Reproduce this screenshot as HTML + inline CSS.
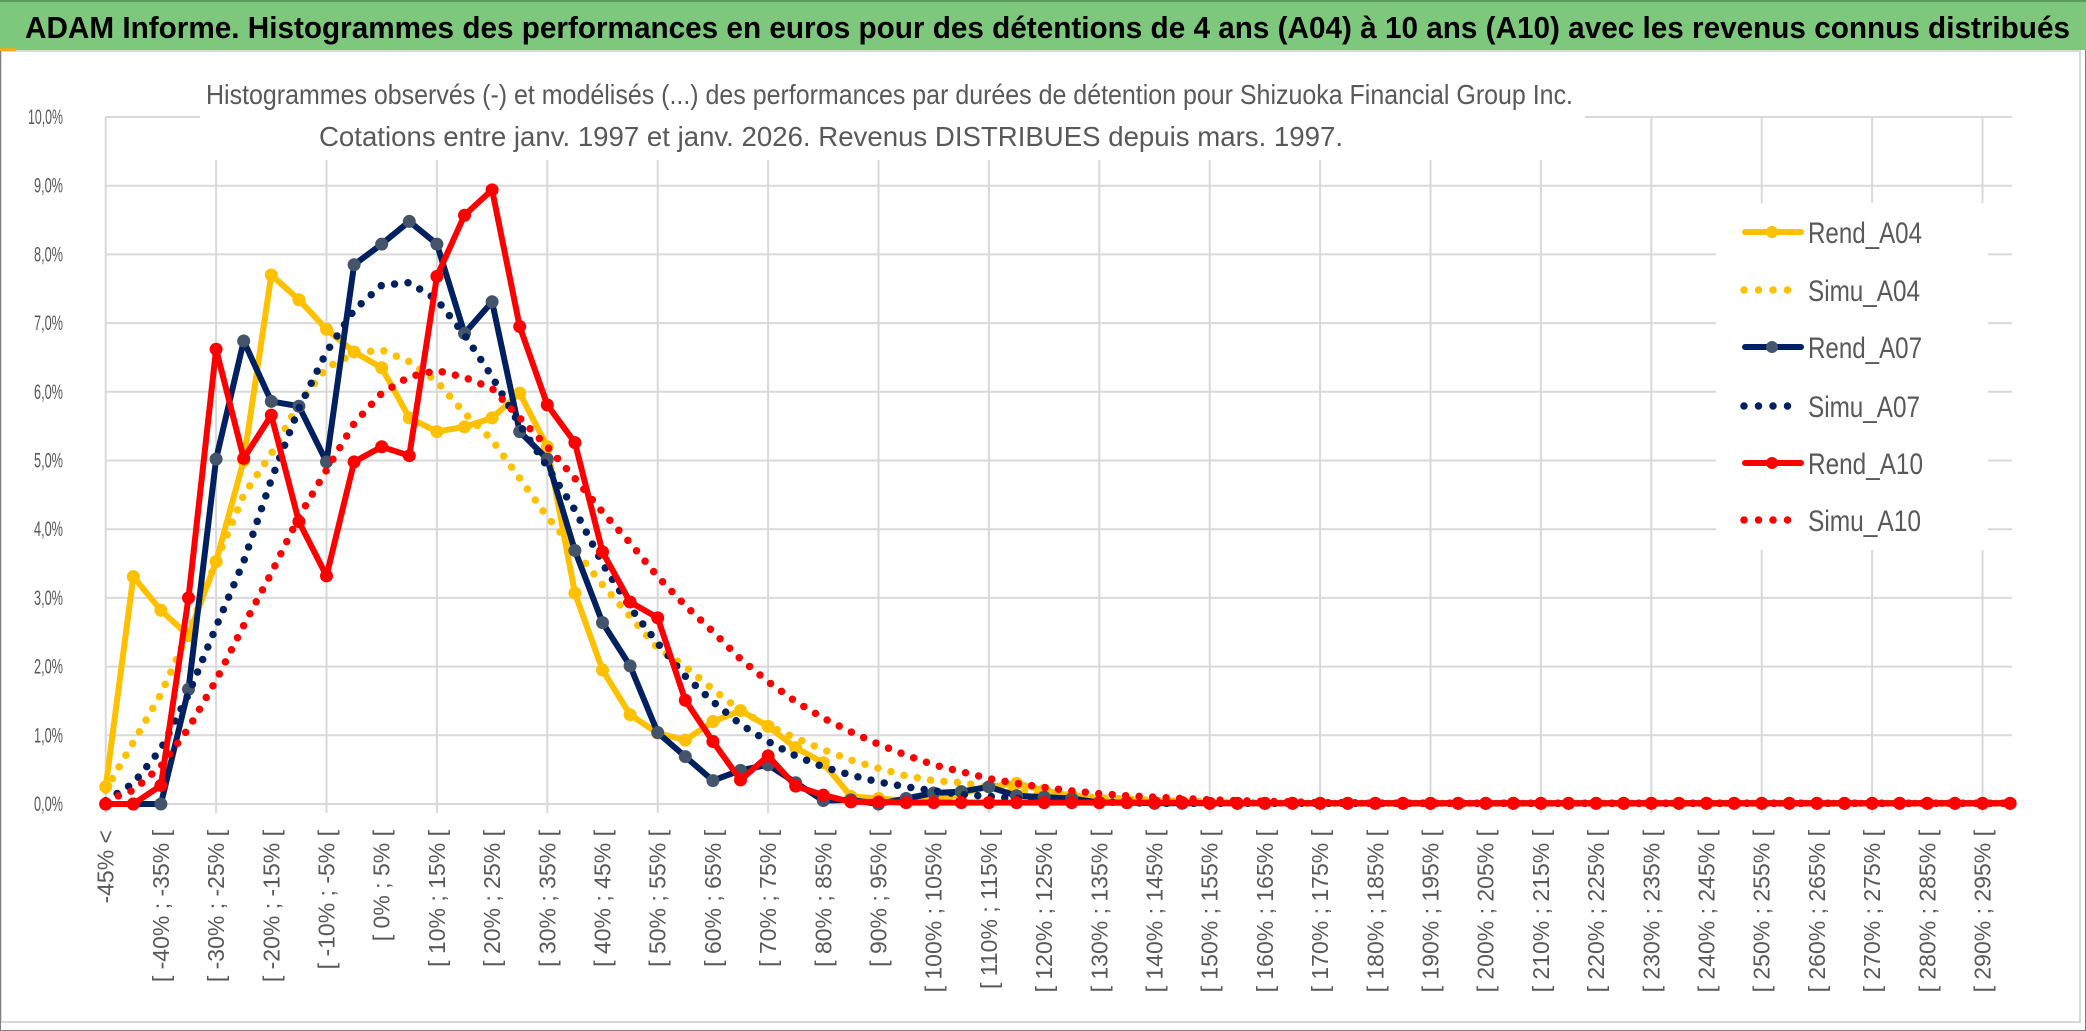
<!DOCTYPE html>
<html><head><meta charset="utf-8"><style>
html,body{margin:0;padding:0;background:#fff;}
svg{display:block;}
</style></head><body>
<svg id="chart" width="2086" height="1031" viewBox="0 0 2086 1031" xmlns="http://www.w3.org/2000/svg" font-family="'Liberation Sans', sans-serif">
<rect x="0" y="0" width="2086" height="1031" fill="#fff"/>
<rect x="1" y="51" width="2079" height="971" fill="none" stroke="#d9d9d9" stroke-width="2"/>
<rect x="0.5" y="0.5" width="2085" height="1030" fill="none" stroke="#7f7f7f" stroke-width="1"/>
<rect x="0" y="0" width="2086" height="50" fill="#7ec87e"/>
<rect x="0" y="0" width="2086" height="2" fill="#5a9a5a"/>
<rect x="0" y="48" width="16" height="3" fill="#e8b020"/>
<text x="25" y="38" font-size="31" font-weight="bold" fill="#000" textLength="2045" lengthAdjust="spacingAndGlyphs">ADAM Informe. Histogrammes des performances en euros pour des détentions de 4 ans (A04) à 10 ans (A10) avec les revenus connus distribués</text>
<g id="grid"></g>
<rect x="200" y="68" width="1385" height="92" fill="#fff"/>
<text x="206" y="104" font-size="28" fill="#595959" textLength="1367" lengthAdjust="spacingAndGlyphs">Histogrammes observés (-) et modélisés (...) des performances par durées de détention pour Shizuoka Financial Group Inc.</text>
<text x="319" y="146" font-size="28" fill="#595959" textLength="1024" lengthAdjust="spacingAndGlyphs">Cotations entre janv. 1997 et janv. 2026. Revenus DISTRIBUES depuis mars. 1997.</text>
<g id="yticks"></g>
<g id="xticks"></g>
<g id="series"></g>
<g id="legend"></g>
</svg>
<script>
const bins = [-45,-45,-40,-35,-30,-25,-20,-15,-10,-5,0,5,10,15,20,25,30,35,40,45,50,55,60,65,70,75,80,85,90,95,100,105,110,115,120,125,130,135,140,145,150,155,160,165,170,175,180,185,190,195,200,205,210,215,220,225,230,235,240,245,250,255,260,265,270,275,280,285,290,295];
const rendA04 = [0.25,3.31,2.82,2.45,3.53,5.00,7.70,7.34,6.91,6.58,
6.35,5.62,5.42,5.49,5.62,5.98,5.20,3.07,1.95,1.30,
1.03,0.93,1.20,1.36,1.13,0.82,0.60,0.11,0.08,0.05,
0.05,0.15,0.25,0.30,0.20,0.12,0.05,0.02,0.02,0.02,
0.01,0.01,0.01,0.01,0.01,0.01,0.01,0.01,0.01,0.01,
0.01,0.01,0.01,0.01,0.01,0.01,0.01,0.01,0.01,0.01,
0.01,0.01,0.01,0.01,0.01,0.01,0.01,0.01,0.01,0.01];
const simuA04 = [0.20,0.90,1.60,2.50,3.53,4.50,5.10,5.83,6.35,6.56,
6.61,6.44,6.15,5.69,5.30,4.74,4.18,3.70,3.19,2.73,
2.27,2.00,1.67,1.36,1.14,0.96,0.79,0.64,0.52,0.41,
0.34,0.31,0.25,0.20,0.15,0.12,0.09,0.07,0.05,0.04,
0.03,0.02,0.02,0.01,0.01,0.01,0.01,0.01,0.01,0.01,
0.01,0.01,0.01,0.01,0.01,0.01,0.01,0.01,0.01,0.01,
0.01,0.01,0.01,0.01,0.01,0.01,0.01,0.01,0.01,0.01];
const rendA07 = [0,0,0,1.67,5.02,6.74,5.86,5.79,4.98,7.85,
8.15,8.48,8.15,6.85,7.31,5.42,5.02,3.69,2.64,2.01,
1.04,0.69,0.34,0.49,0.57,0.31,0.05,0.06,0.00,0.08,
0.16,0.18,0.25,0.12,0.10,0.08,0.02,0.02,0.01,0.01,
0.01,0.01,0.01,0.01,0.01,0.01,0.01,0.01,0.01,0.01,
0.01,0.01,0.01,0.01,0.01,0.01,0.01,0.01,0.01,0.01,
0.01,0.01,0.01,0.01,0.01,0.01,0.01,0.01,0.01,0.01];
const simuA07 = [0.05,0.30,0.80,1.60,2.58,3.53,4.72,5.76,6.58,7.19,
7.55,7.59,7.34,6.83,6.22,5.52,4.91,4.28,3.50,2.86,
2.34,1.86,1.49,1.16,0.91,0.70,0.54,0.42,0.32,0.25,
0.19,0.14,0.11,0.08,0.06,0.04,0.03,0.02,0.01,0.01,
0.01,0.01,0.01,0.01,0.01,0.01,0.01,0.01,0.01,0.01,
0.01,0.01,0.01,0.01,0.01,0.01,0.01,0.01,0.01,0.01,
0.01,0.01,0.01,0.01,0.01,0.01,0.01,0.01,0.01,0.01];
const rendA10 = [0,0,0.27,3.00,6.62,5.03,5.66,4.11,3.32,4.98,
5.20,5.07,7.68,8.57,8.94,6.95,5.81,5.26,3.67,2.94,
2.71,1.51,0.91,0.35,0.70,0.26,0.13,0.03,0.03,0.02,
0.02,0.02,0.02,0.02,0.02,0.02,0.02,0.02,0.02,0.02,
0.01,0.01,0.01,0.01,0.01,0.01,0.01,0.01,0.01,0.01,
0.01,0.01,0.01,0.01,0.01,0.01,0.01,0.01,0.01,0.01,
0.01,0.01,0.01,0.01,0.01,0.01,0.01,0.01,0.01,0.01];
const simuA10 = [0.05,0.20,0.55,1.10,1.80,2.60,3.36,4.18,4.86,5.54,
5.98,6.22,6.31,6.21,6.05,5.62,5.20,4.74,4.25,3.80,
3.31,2.89,2.51,2.11,1.78,1.49,1.25,1.05,0.87,0.71,
0.57,0.47,0.37,0.30,0.24,0.19,0.15,0.12,0.10,0.08,
0.06,0.05,0.04,0.03,0.02,0.02,0.01,0.01,0.01,0.01,
0.01,0.01,0.01,0.01,0.01,0.01,0.01,0.01,0.01,0.01,
0.01,0.01,0.01,0.01,0.01,0.01,0.01,0.01,0.01,0.01];
const yTickValues = [0,1,2,3,4,5,6,7,8,9,10];
const yTickLabels = ["0,0%","1,0%","2,0%","3,0%","4,0%","5,0%","6,0%","7,0%","8,0%","9,0%","10,0%"];
const seriesNames = ["Rend_A04","Simu_A04","Rend_A07","Simu_A07","Rend_A10","Simu_A10"];

const NS = "http://www.w3.org/2000/svg";
const X0 = 105.7, DX = 27.6, Y0 = 804, DY = 68.7, XR = 2012;
function xPos(i){ return X0 + i*DX; }
function yPos(v){ return Y0 - v*DY; }
function mk(tag, attrs, parent){ const e = document.createElementNS(NS, tag); for (const k in attrs) e.setAttribute(k, attrs[k]); parent.appendChild(e); return e; }
function fmt(n){ return (n<0? "-"+Math.abs(n) : ""+n) + "%"; }
const catLabels = bins.map((b,i)=> i===0 ? "-45% <" : "[ " + fmt(b) + " ; " + fmt(b+5) + " [");

const grid = document.getElementById('grid');
yTickValues.forEach(v=>{
  const l = mk('line',{x1:X0,x2:XR,y1:yPos(v),y2:yPos(v),stroke:'#d9d9d9','stroke-width':2},grid);
  
  
});
for (let i=0;i<catLabels.length;i+=4){
  const l = mk('line',{x1:xPos(i),x2:xPos(i),y1:yPos(10),y2:Y0+9,stroke:'#d9d9d9','stroke-width':2},grid);
  
  
}
const yt = document.getElementById('yticks');
yTickValues.forEach((v,k)=>{
  const lab = yTickLabels[k];
  const t = mk('text',{x:63,y:yPos(v)+7,'font-size':21,fill:'#595959','text-anchor':'end',textLength:(lab.length===5?35:29),lengthAdjust:'spacingAndGlyphs'},yt);
  t.textContent = lab;
  
  
});
const xt = document.getElementById('xticks');
catLabels.forEach((lab,i)=>{
  if (i%2!==0) return;
  const x = xPos(i)+8, y = 830;
  const t = mk('text',{x:x,y:y,'font-size':23,fill:'#595959','text-anchor':'end',transform:'rotate(-90 '+x+' '+y+')'},xt);
  t.textContent = lab;
  
  
});

const sg = document.getElementById('series');
function pts(arr){ return arr.map((v,i)=>xPos(i).toFixed(1)+','+yPos(v).toFixed(1)).join(' '); }
function drawRend(arr,color,mcolor,name){
  const g = mk('g',{},sg);
  
  
  const p = mk('polyline',{points:pts(arr),fill:'none',stroke:color,'stroke-width':6,'stroke-linejoin':'round'},g);
  
  
  arr.forEach((v,i)=>{
    const c = mk('circle',{cx:xPos(i),cy:yPos(v),r:6.5,fill:mcolor},g);
    
    
  });
}
function drawSimu(arr,color,name){
  const p = mk('polyline',{points:pts(arr),fill:'none',stroke:color,'stroke-width':7.5,'stroke-linecap':'round','stroke-linejoin':'round','stroke-dasharray':'0 13.5'},sg);
  
  
}
drawRend(rendA04,'#FFC000','#FFC000','rend-a04');
drawSimu(simuA04,'#FFC000','simu-a04');
drawRend(rendA07,'#002060','#44546A','rend-a07');
drawSimu(simuA07,'#002060','simu-a07');
drawRend(rendA10,'#FF0000','#FF0000','rend-a10');
drawSimu(simuA10,'#FF0000','simu-a10');

const lg = document.getElementById('legend');
const lbg = mk('rect',{x:1716,y:203,width:272,height:347,fill:'#fff'},lg);


const legColors = ['#FFC000','#FFC000','#002060','#002060','#FF0000','#FF0000'];
const legMarker = ['#FFC000',null,'#44546A',null,'#FF0000',null];
const legY = [232,290,347,406,463,520];
const legW = [114,112,114,112,115,113];
seriesNames.forEach((n,k)=>{
  const g = mk('g',{},lg);
  
  
  const y = legY[k];
  if (legMarker[k]){
    mk('line',{x1:1745,x2:1801,y1:y,y2:y,stroke:legColors[k],'stroke-width':6,'stroke-linecap':'round'},g);
    mk('circle',{cx:1772,cy:y,r:6,fill:legMarker[k]},g);
  } else {
    const x2 = k===5 ? 1801 : 1789;
    mk('line',{x1:1744,x2:x2,y1:y,y2:y,stroke:legColors[k],'stroke-width':7.5,'stroke-linecap':'round','stroke-dasharray':'0 14.5'},g);
  }
  const t = mk('text',{x:1808,y:y+11,'font-size':30,fill:'#595959',textLength:legW[k],lengthAdjust:'spacingAndGlyphs'},g);
  t.textContent = n;
});
</script>
</body></html>
